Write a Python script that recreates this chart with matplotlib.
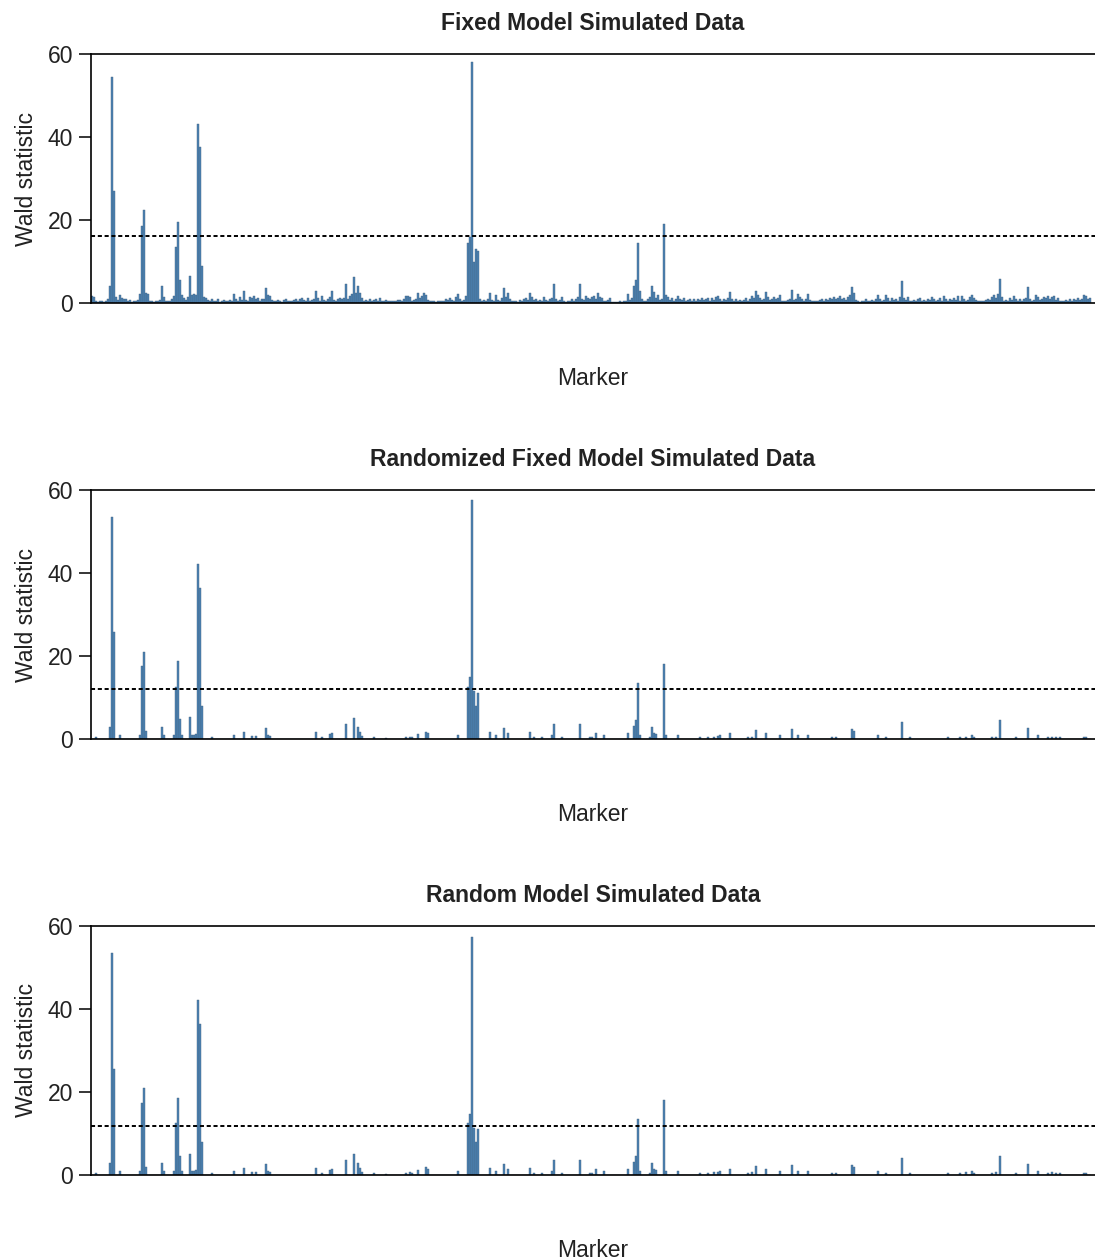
import matplotlib.pyplot as plt
import numpy as np

plt.rcParams['font.family'] = ['Liberation Sans', 'DejaVu Sans']

N_MARKERS = 500

# Wald statistic for every marker, fixed model (row = 25 markers)
fixed_model = [
    1.6, 1.4, 0.6, 0.3, 0.5, 0.4, 0.3, 0.6, 1.0, 4.2, 54.5, 27.0, 1.5, 0.8, 2.0, 1.2, 1.0, 0.9, 0.5, 0.8, 0.3, 0.4, 0.6, 0.8, 2.2,
    18.5, 22.3, 2.5, 2.2, 0.6, 0.4, 0.3, 0.5, 0.6, 0.8, 4.2, 1.4, 0.5, 0.4, 0.6, 0.9, 1.8, 13.5, 19.5, 5.5, 2.0, 1.2, 0.8, 1.5, 6.5,
    2.0, 2.2, 2.0, 43.2, 37.5, 9.0, 1.5, 1.2, 0.8, 0.6, 1.0, 0.4, 0.5, 0.9, 0.3, 0.6, 0.8, 0.5, 0.4, 0.7, 0.5, 2.2, 1.0, 0.6, 1.4,
    0.7, 2.8, 0.8, 0.5, 1.5, 1.2, 1.6, 1.0, 1.2, 0.6, 0.9, 1.0, 3.6, 2.0, 1.6, 0.8, 0.5, 0.4, 0.8, 0.6, 0.3, 0.7, 0.9, 0.5, 0.4,
    0.6, 0.8, 1.0, 0.5, 0.9, 1.2, 0.7, 0.6, 1.1, 0.5, 0.8, 1.0, 2.8, 1.2, 0.6, 1.6, 0.8, 0.5, 0.9, 1.4, 2.9, 0.8, 0.6, 1.0, 1.3,
    1.0, 1.2, 4.7, 1.0, 1.8, 2.2, 6.2, 2.5, 4.2, 2.4, 1.2, 0.6, 0.8, 0.5, 1.0, 0.4, 0.7, 0.9, 0.5, 1.1, 0.6, 0.4, 0.8, 0.6, 0.5,
    0.6, 0.4, 0.5, 0.7, 0.8, 0.5, 0.9, 1.6, 1.8, 1.5, 0.6, 0.8, 1.0, 2.3, 1.2, 1.8, 2.5, 2.0, 0.7, 0.5, 0.4, 0.6, 0.3, 0.5, 0.4,
    0.6, 0.5, 0.9, 0.7, 1.2, 0.8, 0.6, 1.4, 2.2, 1.0, 0.6, 0.8, 1.8, 14.5, 16.0, 58.2, 10.0, 13.0, 12.5, 1.0, 0.5, 0.8, 0.6, 1.0, 2.4,
    0.8, 0.6, 2.0, 0.7, 0.5, 1.2, 3.6, 1.5, 2.5, 1.0, 0.6, 0.4, 0.5, 0.3, 0.8, 0.6, 0.9, 1.2, 0.7, 2.5, 1.4, 0.8, 1.0, 0.5, 0.7,
    0.6, 1.5, 0.8, 0.5, 1.0, 1.2, 4.7, 1.0, 0.6, 0.8, 1.5, 0.5, 0.3, 0.6, 0.4, 0.9, 0.5, 1.0, 1.4, 4.6, 1.0, 0.7, 1.6, 1.2, 0.9,
    1.4, 1.8, 1.0, 2.3, 1.5, 1.2, 0.6, 0.4, 0.8, 1.2, 0.3, 0.2, 0.3, 0.2, 0.4, 0.3, 0.5, 0.6, 2.2, 0.8, 1.2, 4.0, 5.5, 14.5, 3.0,
    1.0, 0.4, 0.6, 1.0, 1.5, 4.0, 2.6, 1.2, 2.0, 0.8, 1.0, 19.0, 2.0, 1.5, 0.8, 1.2, 0.6, 1.0, 1.6, 0.9, 0.7, 1.1, 0.5, 0.8, 1.0,
    0.6, 0.9, 0.5, 1.0, 0.8, 1.2, 0.7, 1.0, 1.3, 0.6, 1.1, 0.8, 1.4, 1.8, 0.9, 0.6, 1.0, 0.7, 1.2, 2.6, 1.0, 0.5, 0.9, 0.4, 0.7,
    0.5, 0.8, 1.2, 0.6, 1.0, 1.8, 1.2, 3.0, 2.0, 1.2, 0.8, 1.0, 2.7, 1.4, 0.8, 1.0, 1.5, 0.9, 1.2, 2.0, 0.6, 0.4, 0.6, 0.8, 1.0,
    3.1, 0.8, 1.0, 2.2, 1.5, 0.9, 0.6, 1.0, 2.2, 0.8, 0.5, 0.4, 0.6, 0.5, 0.7, 0.9, 0.6, 1.0, 0.8, 1.2, 1.0, 1.4, 0.9, 1.3, 1.6,
    1.0, 1.2, 0.8, 1.5, 2.0, 3.8, 2.5, 0.8, 0.4, 0.3, 0.6, 0.5, 1.0, 0.6, 0.4, 0.8, 0.5, 0.9, 2.0, 1.0, 0.6, 0.8, 2.0, 1.2, 0.6,
    1.2, 0.8, 1.0, 0.6, 1.4, 5.2, 1.2, 0.8, 1.5, 0.6, 0.4, 0.7, 0.5, 0.9, 1.2, 0.6, 0.8, 0.5, 1.0, 0.7, 1.5, 0.9, 0.5, 0.8, 1.2,
    0.6, 1.8, 0.9, 0.5, 1.0, 0.7, 1.3, 0.8, 1.6, 0.6, 1.8, 1.0, 0.5, 0.8, 1.4, 2.0, 1.2, 0.8, 0.6, 0.4, 0.6, 0.5, 0.7, 1.0, 0.8,
    1.5, 2.0, 1.2, 2.2, 5.8, 1.5, 0.6, 0.8, 0.5, 1.2, 0.8, 1.6, 1.0, 0.6, 0.9, 0.5, 1.0, 1.2, 3.8, 1.0, 0.6, 0.8, 2.0, 1.5, 0.8,
    1.0, 1.5, 1.2, 1.8, 1.0, 1.4, 1.8, 0.8, 1.2, 0.6, 0.5, 0.4, 0.8, 0.5, 0.9, 0.6, 1.0, 0.8, 1.2, 0.7, 1.0, 2.0, 1.6, 1.0, 1.2,
]

# randomized fixed model: only markers with a non-zero statistic
randomized_idx = [
    2, 9, 10, 11, 14, 24, 25, 26, 27, 35, 36, 41, 42, 43, 44, 45, 49, 50, 51, 52,
    53, 54, 55, 60, 71, 76, 80, 82, 87, 88, 89, 112, 115, 119, 120, 127, 131, 133, 134, 135,
    141, 147, 157, 159, 160, 163, 167, 168, 183, 188, 189, 190, 191, 192, 193, 199, 202, 206, 208, 219,
    221, 225, 230, 231, 235, 244, 249, 250, 252, 256, 268, 271, 272, 273, 274, 279, 280, 281, 282, 286,
    287, 293, 304, 308, 311, 313, 314, 319, 328, 330, 332, 337, 344, 350, 353, 358, 370, 372, 380, 381,
    393, 397, 405, 409, 428, 434, 437, 440, 441, 450, 452, 454, 462, 468, 473, 478, 480, 482, 484, 496,
    497,
]
randomized_val = [
    0.5, 3.0, 53.5, 25.8, 1.0, 1.0, 17.5, 21.0, 2.0, 3.0, 1.0, 1.0, 12.5, 18.7, 4.7, 1.0, 5.2, 1.0, 1.0, 1.2,
    42.2, 36.5, 8.0, 0.5, 1.0, 1.6, 0.7, 0.8, 2.6, 1.0, 0.8, 1.6, 0.5, 1.2, 1.5, 3.6, 5.0, 3.0, 1.6, 0.8,
    0.5, 0.3, 0.5, 0.6, 0.4, 1.2, 1.8, 1.4, 1.0, 12.5, 14.9, 57.6, 11.5, 8.0, 11.0, 1.6, 1.0, 2.6, 1.5, 1.6,
    0.5, 0.5, 1.0, 3.6, 0.5, 3.6, 0.5, 0.5, 1.5, 1.0, 1.5, 3.2, 4.5, 13.5, 1.0, 0.5, 3.0, 1.5, 1.2, 18.1,
    1.0, 1.0, 0.5, 0.5, 0.6, 0.8, 1.0, 1.5, 0.5, 0.6, 2.1, 1.5, 1.0, 2.3, 1.0, 1.0, 0.5, 0.5, 2.4, 2.0,
    1.0, 0.5, 4.2, 0.5, 0.5, 0.5, 0.6, 1.0, 0.5, 0.5, 0.6, 4.6, 0.5, 2.6, 1.0, 0.5, 0.6, 0.5, 0.4, 0.5,
    0.5,
]

# random model: same markers
random_idx = list(randomized_idx)
random_val = [
    0.5, 3.0, 53.4, 25.6, 1.0, 1.0, 17.4, 20.9, 2.0, 3.0, 1.0, 1.0, 12.4, 18.6, 4.6, 1.0, 5.1, 1.0, 1.0, 1.2,
    42.1, 36.4, 8.0, 0.5, 1.0, 1.6, 0.7, 0.8, 2.6, 1.0, 0.8, 1.6, 0.5, 1.2, 1.5, 3.6, 5.0, 3.0, 1.6, 0.8,
    0.5, 0.3, 0.5, 0.6, 0.4, 1.2, 1.8, 1.4, 1.0, 12.4, 14.8, 57.3, 11.4, 8.0, 11.0, 1.6, 1.0, 2.6, 1.5, 1.6,
    0.5, 0.5, 1.0, 3.6, 0.5, 3.6, 0.5, 0.5, 1.5, 1.0, 1.5, 3.2, 4.5, 13.4, 1.0, 0.5, 3.0, 1.5, 1.2, 18.0,
    1.0, 1.0, 0.5, 0.5, 0.6, 0.8, 1.0, 1.5, 0.5, 0.6, 2.1, 1.5, 1.0, 2.3, 1.0, 1.0, 0.5, 0.5, 2.4, 2.0,
    1.0, 0.5, 4.2, 0.5, 0.5, 0.5, 0.6, 1.0, 0.5, 0.5, 0.6, 4.6, 0.5, 2.6, 1.0, 0.5, 0.6, 0.5, 0.4, 0.5,
    0.5,
]

titles = ["Fixed Model Simulated Data",
          "Randomized Fixed Model Simulated Data",
          "Random Model Simulated Data"]
thresholds = [16.2, 12.0, 11.9]
y_ticks = [0, 20, 40, 60]

BAR_COLOR = '#4a82b4'
EDGE_COLOR = '#46637f'
TEXT_COLOR = '#222222'
FONT_SIZE = 16.5


def sparse_to_full(idx, vals, n):
    full = np.zeros(n)
    full[np.array(idx)] = vals
    return full


def draw_panel(ax, values, threshold, title):
    x = np.arange(len(values))
    ax.bar(x, values, width=1.0, color=BAR_COLOR, edgecolor=EDGE_COLOR,
           linewidth=0.3)
    ax.axhline(threshold, color='black', linewidth=1.4,
               linestyle=(0, (2.1, 1.4)))

    ax.set_xlim(-0.5, N_MARKERS + 1.5)
    ax.set_ylim(0, 60)
    ax.set_yticks(y_ticks)
    ax.tick_params(axis='y', length=9, width=1.1, pad=4,
                   labelsize=FONT_SIZE, labelcolor=TEXT_COLOR)
    ax.tick_params(axis='x', bottom=False, labelbottom=False)

    ax.spines['right'].set_visible(False)
    for side in ('left', 'top', 'bottom'):
        ax.spines[side].set_linewidth(1.2)

    ax.set_title(title, fontsize=FONT_SIZE, fontweight='bold',
                 color=TEXT_COLOR, pad=17)
    ax.set_xlabel("Marker", fontsize=FONT_SIZE, color=TEXT_COLOR,
                  labelpad=46)
    ax.set_ylabel("Wald statistic", fontsize=FONT_SIZE, color=TEXT_COLOR,
                  labelpad=7)


def main():
    fig = plt.figure(figsize=(10.95, 12.6), dpi=100)

    series = [
        np.array(fixed_model),
        sparse_to_full(randomized_idx, randomized_val, N_MARKERS),
        sparse_to_full(random_idx, random_val, N_MARKERS),
    ]
    bottoms = [0.7595, 0.4135, 0.0675]

    left = 91 / 1095
    for values, bottom, thr, title in zip(series, bottoms, thresholds, titles):
        ax = fig.add_axes([left, bottom, 1.0 - left, 0.1976])
        draw_panel(ax, values, thr, title)

    fig.savefig("out.png", dpi=100)


if __name__ == "__main__":
    main()
